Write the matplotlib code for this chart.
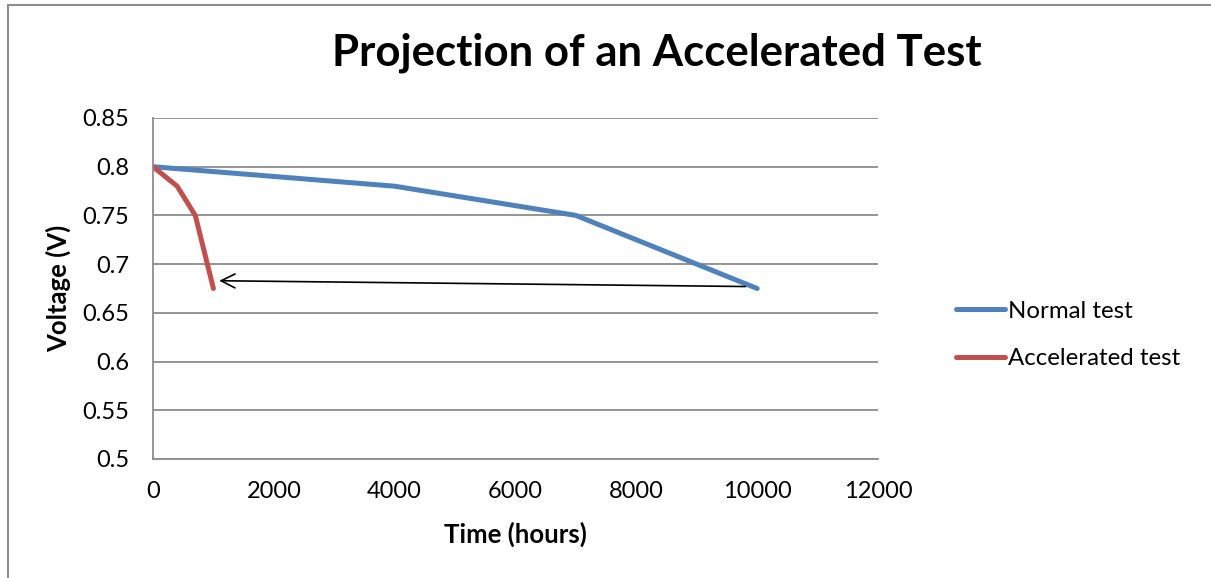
import matplotlib.pyplot as plt
import numpy as np
import pandas as pd

plt.rcParams['font.family'] = ['Lato', 'DejaVu Sans']

# data
normal_x = [0, 4000, 6000, 7000, 10000]
normal_v = [0.8, 0.78, 0.76, 0.75, 0.675]
accel_x = [0, 400, 700, 1000]
accel_v = [0.8, 0.78, 0.75, 0.675]

arrow_from = (9850, 0.677)
arrow_to = (1050, 0.683)

xticks = np.arange(0, 12001, 2000)
yticks = np.arange(0.5, 0.851, 0.05)

fig = plt.figure(figsize=(12.11, 5.78), dpi=100)
ax = fig.add_axes([153/1211, 1-459/578, (878-153)/1211, (459-118)/578])

ax.plot(normal_x, normal_v, color='#4F81BD', lw=3.6, label='Normal test', solid_capstyle='round')
ax.plot(accel_x, accel_v, color='#C0504D', lw=3.6, label='Accelerated test', solid_capstyle='round')

ax.annotate('', xy=arrow_to, xytext=arrow_from,
            arrowprops=dict(arrowstyle='->', color='black', lw=1.2, mutation_scale=25))

ax.set_xlim(0, 12000)
ax.set_ylim(0.5, 0.85)
ax.set_xticks(xticks)
ax.set_yticks(yticks)
ax.set_yticklabels(['0.5', '0.55', '0.6', '0.65', '0.7', '0.75', '0.8', '0.85'])
ax.tick_params(length=0, labelsize=17)
ax.tick_params(axis='y', pad=17)
ax.tick_params(axis='x', pad=16)
ax.grid(axis='y', color='#8c8c8c', lw=1.3)
ax.set_axisbelow(True)
for s in ['top', 'right']:
    ax.spines[s].set_visible(False)
for s in ['left', 'bottom']:
    ax.spines[s].set_color('#8c8c8c')
    ax.spines[s].set_linewidth(1.3)

ax.set_xlabel('Time (hours)', fontsize=18.5, fontweight='bold', labelpad=14)
ax.set_ylabel('Voltage (V)', fontsize=18.5, fontweight='bold', labelpad=8)

fig.text(657/1211, 1-53/578, 'Projection of an Accelerated Test', fontsize=31.5,
         fontweight='bold', ha='center', va='center')

ax.legend(loc='center left', bbox_to_anchor=(934/1211, 1-335/578),
          bbox_transform=fig.transFigure, frameon=False, fontsize=17.3,
          handlelength=2.05, handletextpad=0.15, labelspacing=1.1)

fig.add_artist(plt.Rectangle((8/1211, -0.1), 1.2, 1.1-5/578, transform=fig.transFigure,
                             fill=False, edgecolor='#8c8c8c', lw=1.5))

fig.savefig('out.png', dpi=100)
